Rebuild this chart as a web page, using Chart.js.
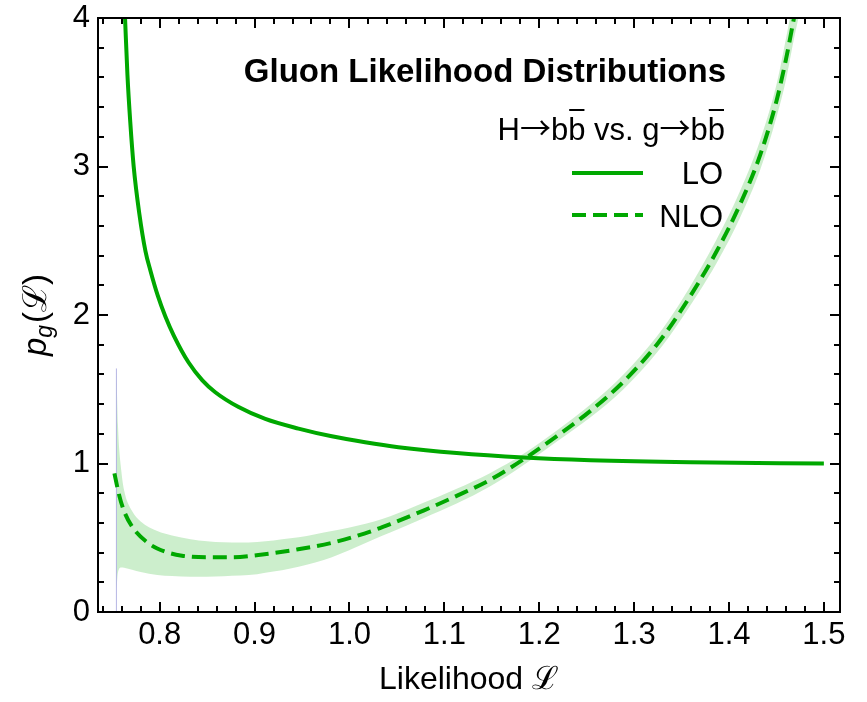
<!DOCTYPE html>
<html>
<head>
<meta charset="utf-8">
<script src="https://cdn.jsdelivr.net/npm/chart.js@4.4.1/dist/chart.umd.min.js"></script>
<style>
  html, body { margin: 0; padding: 0; background: #fff; }
</style>
</head>
<body>
<canvas id="chart" width="867" height="702"></canvas>
<script>
// LO curve
const loL = [0.7635, 0.766, 0.769, 0.7726, 0.7786, 0.785, 0.7902, 0.798, 0.806, 0.815, 0.8305, 0.845, 0.8586, 0.8832, 0.9113, 0.9463, 0.9814, 1.0165, 1.0516, 1.113, 1.1835, 1.254, 1.359, 1.5];
const loP = [4.0, 3.62, 3.30, 3.0, 2.68, 2.43, 2.30, 2.13, 1.99, 1.86, 1.68, 1.56, 1.48, 1.38, 1.30, 1.235, 1.183, 1.143, 1.11, 1.07, 1.04, 1.022, 1.008, 1.0];

// NLO central curve
const nloL = [0.7523, 0.7568, 0.762, 0.7709, 0.7884, 0.806, 0.8235, 0.8516, 0.876, 0.904, 0.946, 0.981, 1.0165, 1.043, 1.078, 1.113, 1.148, 1.1835, 1.2186, 1.2537, 1.2888, 1.3239, 1.3484, 1.387, 1.412, 1.433, 1.45, 1.46, 1.4685];
const nloP = [0.934, 0.799, 0.687, 0.575, 0.462, 0.406, 0.379, 0.368, 0.368, 0.384, 0.422, 0.465, 0.53, 0.592, 0.683, 0.782, 0.889, 1.028, 1.185, 1.353, 1.551, 1.80, 2.02, 2.429, 2.75, 3.08, 3.44, 3.72, 4.0];

// NLO uncertainty band
const bandL = [0.7544, 0.7561, 0.7596, 0.7625, 0.7709, 0.78, 0.7975, 0.813, 0.8326, 0.85, 0.8674, 0.885, 0.9028, 0.92, 0.9379, 0.955, 0.973, 0.99, 1.008, 1.026, 1.043, 1.078, 1.113, 1.148, 1.1835, 1.2186, 1.2537, 1.2888, 1.3239, 1.3484, 1.387, 1.412, 1.433, 1.45, 1.46, 1.4685, 1.475];
const bandHigh = [1.64, 1.25, 0.95, 0.82, 0.68, 0.61, 0.545, 0.515, 0.49, 0.476, 0.469, 0.468, 0.472, 0.482, 0.496, 0.512, 0.535, 0.555, 0.58, 0.61, 0.645, 0.735, 0.83, 0.935, 1.065, 1.222, 1.395, 1.60, 1.855, 2.08, 2.51, 2.84, 3.18, 3.55, 3.86, 4.15, 4.4];
const bandLow = [0.15, 0.27, 0.30, 0.298, 0.285, 0.27, 0.25, 0.242, 0.238, 0.238, 0.241, 0.245, 0.255, 0.272, 0.293, 0.318, 0.35, 0.39, 0.44, 0.49, 0.535, 0.632, 0.73, 0.845, 0.99, 1.148, 1.31, 1.50, 1.745, 1.96, 2.35, 2.66, 2.98, 3.33, 3.58, 3.86, 4.05];

// thin edge of the band at the left end
const edgeL = [0.7544, 0.7544];
const edgeP = [0, 1.64];

const xTicks = [0.8, 0.9, 1.0, 1.1, 1.2, 1.3, 1.4, 1.5];
const yTicks = [0, 1, 2, 3, 4];

const GREEN = '#00a800';
const BAND = 'rgba(0, 168, 0, 0.2)';
const FONT = '"Liberation Sans", Arial, Helvetica, sans-serif';
const ARROW_FONT = '"Noto Sans CJK SC", "DejaVu Sans", sans-serif';

const pts = (xs, ys) => xs.map((x, i) => ({ x: x, y: ys[i] }));

// frame with inward ticks on all four sides
const framePlugin = {
    id: 'frame',
    afterDatasetsDraw(chart) {
        const { ctx, chartArea: a, scales } = chart;
        const x = scales.x, y = scales.y;
        ctx.save();
        ctx.strokeStyle = '#000';
        ctx.lineWidth = 2;
        ctx.strokeRect(a.left, a.top, a.right - a.left, a.bottom - a.top);
        ctx.beginPath();
        for (let k = 37; k <= 75; k++) {
            const px = Math.round(x.getPixelForValue(k / 50));
            const len = k % 5 === 0 ? 10 : 6;
            ctx.moveTo(px, a.bottom); ctx.lineTo(px, a.bottom - len);
            ctx.moveTo(px, a.top); ctx.lineTo(px, a.top + len);
        }
        for (let k = 0; k <= 20; k++) {
            const py = Math.round(y.getPixelForValue(k / 5));
            const len = k % 5 === 0 ? 10 : 6;
            ctx.moveTo(a.left, py); ctx.lineTo(a.left + len, py);
            ctx.moveTo(a.right, py); ctx.lineTo(a.right - len, py);
        }
        ctx.stroke();
        ctx.restore();
    }
};

// title, legend and y axis label
const textPlugin = {
    id: 'texts',
    afterDraw(chart) {
        const ctx = chart.ctx;
        const a = chart.chartArea;
        ctx.save();
        ctx.fillStyle = '#000';
        ctx.textBaseline = 'alphabetic';

        ctx.font = 'bold 33px ' + FONT;
        ctx.textAlign = 'right';
        ctx.fillText('Gluon Likelihood Distributions', 726, 82);

        // H→bb̄ vs. g→bb̄ with bars drawn over the second b
        const parts = [['H', 0], ['\u2192', 2], ['b', 0], ['b', 1], [' vs. g', 0], ['\u2192', 2], ['b', 0], ['b', 1]];
        const setFont = kind => { ctx.font = kind === 2 ? '31px ' + ARROW_FONT : '31px ' + FONT; };
        let total = 0;
        parts.forEach(p => { setFont(p[1]); total += ctx.measureText(p[0]).width; });
        let cx = 725 - total;
        ctx.textAlign = 'left';
        ctx.strokeStyle = '#000';
        ctx.lineWidth = 2;
        parts.forEach(p => {
            setFont(p[1]);
            const w = ctx.measureText(p[0]).width;
            ctx.fillText(p[0], cx, p[1] === 2 ? 139 : 140);
            if (p[1] === 1) {
                ctx.beginPath();
                ctx.moveTo(cx + 1, 110); ctx.lineTo(cx + w - 1, 110);
                ctx.stroke();
            }
            cx += w;
        });

        ctx.font = '31px ' + FONT;
        ctx.textAlign = 'right';
        ctx.fillText('LO', 723, 184);
        ctx.fillText('NLO', 723, 227);

        ctx.strokeStyle = GREEN;
        ctx.lineWidth = 4;
        ctx.beginPath(); ctx.moveTo(572, 173); ctx.lineTo(643, 173); ctx.stroke();
        ctx.setLineDash([14, 7]);
        ctx.beginPath(); ctx.moveTo(572, 215); ctx.lineTo(643, 215); ctx.stroke();
        ctx.setLineDash([]);

        // y axis label p_g(ℒ)
        ctx.translate(36, (a.top + a.bottom) / 2);
        ctx.rotate(-Math.PI / 2);
        const fP = 'italic 33px ' + FONT, fG = 'italic 23px ' + FONT, fR = '33px ' + FONT;
        ctx.font = fP; const wP = ctx.measureText('p').width;
        ctx.font = fG; const wG = ctx.measureText('g').width;
        ctx.font = fR; const wR = ctx.measureText('(\u2112)').width;
        let tx = -(wP + wG + 2 + wR) / 2;
        ctx.textAlign = 'left';
        ctx.font = fP; ctx.fillText('p', tx, 10); tx += wP;
        ctx.font = fG; ctx.fillText('g', tx, 16); tx += wG + 2;
        ctx.font = fR; ctx.fillText('(\u2112)', tx, 10);
        ctx.restore();
    }
};

const ctx = document.getElementById('chart').getContext('2d');
new Chart(ctx, {
    type: 'line',
    data: {
        datasets: [
            { label: 'LO', data: pts(loL, loP), borderColor: GREEN, borderWidth: 4, pointRadius: 0, cubicInterpolationMode: 'monotone', fill: false },
            { label: 'NLO', data: pts(nloL, nloP), borderColor: GREEN, borderWidth: 4, borderDash: [14, 7], pointRadius: 0, cubicInterpolationMode: 'monotone', fill: false },
            { label: 'edge', data: pts(edgeL, edgeP), borderColor: 'rgba(150, 150, 215, 0.7)', borderWidth: 1, pointRadius: 0, fill: false },
            { label: 'NLO high', data: pts(bandL, bandHigh), borderColor: 'rgba(0,0,0,0)', borderWidth: 0, backgroundColor: BAND, pointRadius: 0, cubicInterpolationMode: 'monotone', fill: '+1' },
            { label: 'NLO low', data: pts(bandL, bandLow), borderColor: 'rgba(0,0,0,0)', borderWidth: 0, pointRadius: 0, cubicInterpolationMode: 'monotone', fill: false }
        ]
    },
    options: {
        responsive: false,
        animation: false,
        devicePixelRatio: 1,
        layout: { padding: { top: 18, right: 27, left: 0, bottom: 0 } },
        plugins: { legend: { display: false }, tooltip: { enabled: false } },
        scales: {
            x: {
                type: 'linear', min: 0.735, max: 1.517,
                grid: { display: false, drawTicks: false }, border: { display: false },
                afterBuildTicks: s => { s.ticks = xTicks.map(v => ({ value: v })); },
                afterFit: s => { s.height = 90; s.paddingLeft = 0; s.paddingRight = 0; },
                ticks: { padding: 5, color: '#000', autoSkip: false, maxRotation: 0, font: { family: FONT, size: 31 }, callback: v => Number(v).toFixed(1) },
                title: { display: true, text: 'Likelihood \u2112', color: '#000', font: { family: FONT, size: 32 }, padding: { top: 0, bottom: 3 } }
            },
            y: {
                min: 0, max: 4,
                grid: { display: false, drawTicks: false }, border: { display: false },
                afterBuildTicks: s => { s.ticks = yTicks.map(v => ({ value: v })); },
                afterFit: s => { s.width = 98; s.paddingTop = 0; s.paddingBottom = 0; },
                ticks: { padding: 8, color: '#000', font: { family: FONT, size: 31 }, callback: v => String(v) }
            }
        }
    },
    plugins: [framePlugin, textPlugin]
});
</script>
</body>
</html>
